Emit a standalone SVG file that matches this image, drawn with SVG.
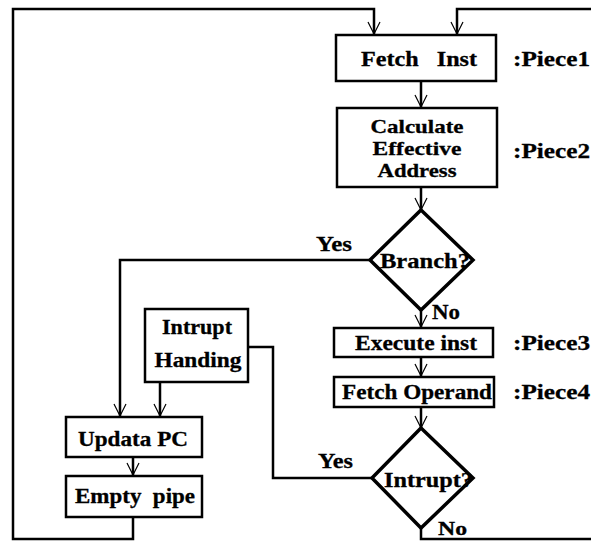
<svg xmlns="http://www.w3.org/2000/svg" width="591" height="541" viewBox="0 0 591 541">
<style>
.box{fill:#fff;stroke:#000;stroke-width:2.5}
.dia{fill:#fff;stroke:#000;stroke-width:3.5;stroke-linejoin:miter}
.ln{fill:none;stroke:#000;stroke-width:2.5}
.arr{fill:none;stroke:#000;stroke-width:2.5;marker-end:url(#v)}
text{font-family:'Liberation Serif','Times New Roman','DejaVu Serif',serif;font-weight:bold;font-size:21px;fill:#000;stroke:#000;stroke-width:0.3}
.c{text-anchor:middle}
.s{font-size:19px}
</style>
<defs>
<marker id="v" markerUnits="userSpaceOnUse" markerWidth="16" markerHeight="16" viewBox="-14 -8 16 16" refX="0" refY="0" orient="auto" overflow="visible">
<path d="M-12,-6 L0,0 L-12,6" fill="none" stroke="#000" stroke-width="1.2"/>
</marker>
</defs>
<rect width="591" height="541" fill="#fff"/>
<g id="connectors">
<path class="arr" d="M133,517 V539 H13 V9 H374 V34"/>
<path class="arr" d="M591,9 H457 V34"/>
<path class="arr" d="M421,81 V107"/>
<path class="arr" d="M421,187 V210"/>
<path class="arr" d="M421,310 V327"/>
<path class="arr" d="M421,357 V376"/>
<path class="arr" d="M421,407 V428"/>
<path class="arr" d="M370,260 H120 V416"/>
<path class="ln" d="M372,478 H273 V347 H248"/>
<path class="arr" d="M160,382 V416"/>
<path class="arr" d="M133,457 V475"/>
<path class="ln" d="M421,528 V539 H591"/>
<text x="316" y="251" textLength="36" lengthAdjust="spacingAndGlyphs">Yes</text>
<text x="432" y="319" textLength="28" lengthAdjust="spacingAndGlyphs">No</text>
<text x="318" y="468" textLength="35" lengthAdjust="spacingAndGlyphs">Yes</text>
<text class="s" x="438" y="535" textLength="29" lengthAdjust="spacingAndGlyphs">No</text>
</g>
<g id="fetch-inst">
<rect class="box" x="336" y="35" width="160" height="46"/>
<text x="361" y="66" textLength="116" lengthAdjust="spacingAndGlyphs" xml:space="preserve">Fetch   Inst</text>
</g>
<g id="piece1"><text x="513" y="66" textLength="77" lengthAdjust="spacingAndGlyphs">:Piece1</text></g>
<g id="calc-address">
<rect class="box" x="337" y="108" width="160" height="79"/>
<text class="c s" x="417" y="133" textLength="93" lengthAdjust="spacingAndGlyphs">Calculate</text>
<text class="c s" x="417" y="155" textLength="89" lengthAdjust="spacingAndGlyphs">Effective</text>
<text class="c s" x="417" y="177" textLength="79" lengthAdjust="spacingAndGlyphs">Address</text>
</g>
<g id="piece2"><text x="513" y="158" textLength="77" lengthAdjust="spacingAndGlyphs">:Piece2</text></g>
<g id="branch">
<polygon class="dia" points="421,210 473,260 421,310 370,260"/>
<text x="380" y="268" textLength="90" lengthAdjust="spacingAndGlyphs">Branch?</text>
</g>
<g id="execute-inst">
<rect class="box" x="334" y="328" width="159" height="29"/>
<text class="c" x="416" y="350" textLength="122" lengthAdjust="spacingAndGlyphs">Execute inst</text>
</g>
<g id="piece3"><text x="513" y="350" textLength="77" lengthAdjust="spacingAndGlyphs">:Piece3</text></g>
<g id="fetch-operand">
<rect class="box" x="334" y="377" width="160" height="30"/>
<text class="c" x="417" y="399" textLength="150" lengthAdjust="spacingAndGlyphs">Fetch Operand</text>
</g>
<g id="piece4"><text x="513" y="399" textLength="77" lengthAdjust="spacingAndGlyphs">:Piece4</text></g>
<g id="intrupt">
<polygon class="dia" points="421,428 473,478 421,528 372,478"/>
<text x="384" y="487" textLength="89" lengthAdjust="spacingAndGlyphs">Intrupt?</text>
</g>
<g id="intrupt-handing">
<rect class="box" x="145" y="309" width="103" height="73"/>
<text class="c" x="197" y="334" textLength="70" lengthAdjust="spacingAndGlyphs">Intrupt</text>
<text class="c" x="198" y="367" textLength="87" lengthAdjust="spacingAndGlyphs">Handing</text>
</g>
<g id="updata-pc">
<rect class="box" x="66" y="417" width="136" height="40"/>
<text class="c" x="133" y="446" textLength="110" lengthAdjust="spacingAndGlyphs">Updata PC</text>
</g>
<g id="empty-pipe">
<rect class="box" x="66" y="476" width="136" height="41"/>
<text x="75" y="503" textLength="120" lengthAdjust="spacingAndGlyphs" xml:space="preserve">Empty  pipe</text>
</g>
</svg>
